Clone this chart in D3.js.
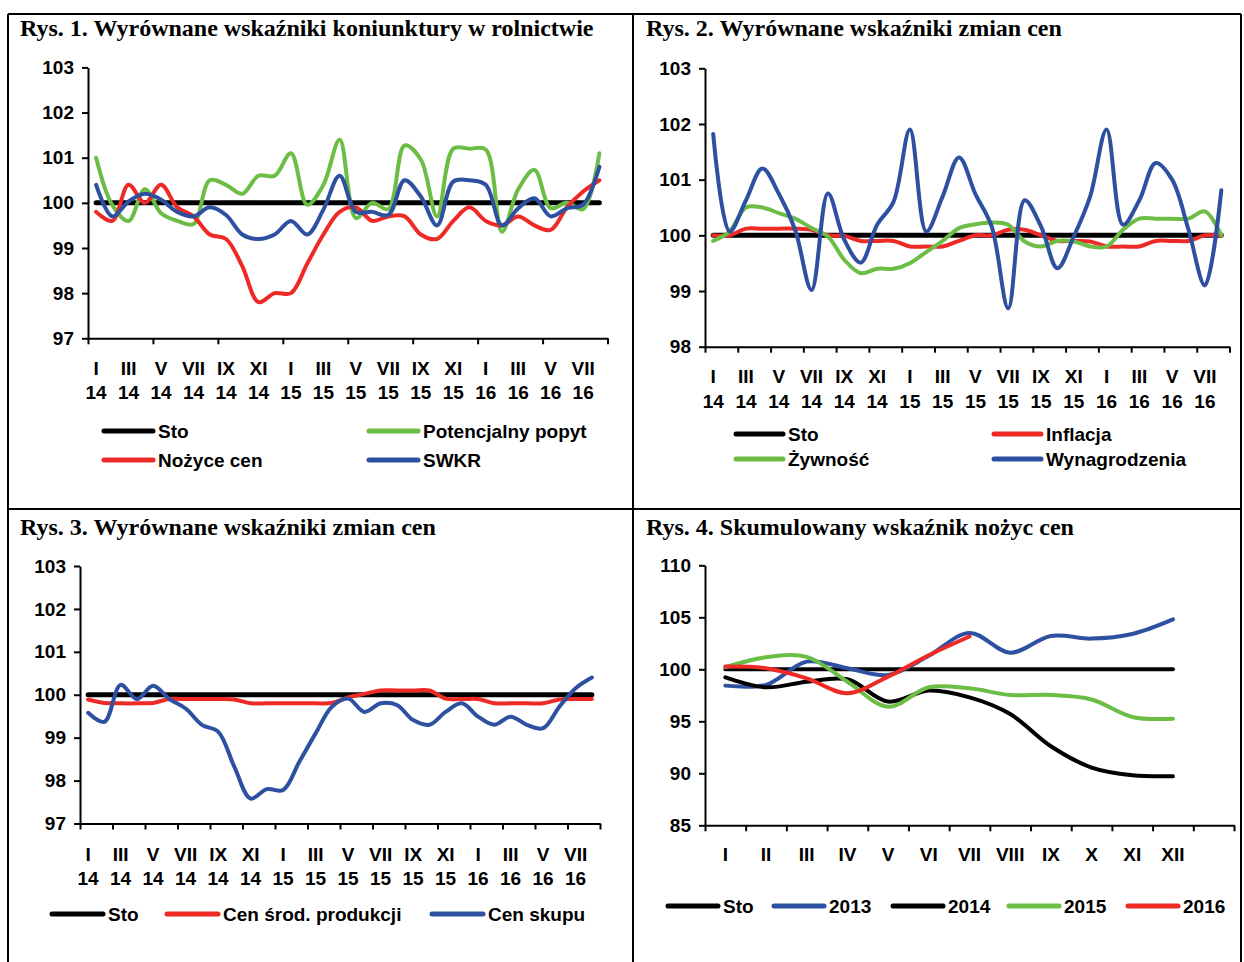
<!DOCTYPE html>
<html>
<head>
<meta charset="utf-8">
<title>Wskaźniki koniunktury w rolnictwie</title>
<script src="https://d3js.org/d3.v7.min.js"></script>
<style>
    body { margin: 0; background: #fff; }
    svg text {
        font-family: "Liberation Sans", Arial, sans-serif;
        font-weight: bold;
        font-size: 19px;
        fill: #000;
    }
    svg text.title {
        font-family: "Liberation Serif", "Times New Roman", serif;
        font-size: 24px;
    }
    .axis path, .axis line { stroke: #000; stroke-width: 2; }
</style>
</head>
<body>
<script>
    // categories: I 2014 .. VIII 2016
    var roman32 = ["I","II","III","IV","V","VI","VII","VIII","IX","X","XI","XII",
                   "I","II","III","IV","V","VI","VII","VIII","IX","X","XI","XII",
                   "I","II","III","IV","V","VI","VII","VIII"];
    var years32 = ["14","14","14","14","14","14","14","14","14","14","14","14",
                   "15","15","15","15","15","15","15","15","15","15","15","15",
                   "16","16","16","16","16","16","16","16"];
    var roman12 = ["I","II","III","IV","V","VI","VII","VIII","IX","X","XI","XII"];

    var sto32 = [100,100,100,100,100,100,100,100,100,100,100,100,100,100,100,100,
                 100,100,100,100,100,100,100,100,100,100,100,100,100,100,100,100];
    var sto12 = [100,100,100,100,100,100,100,100,100,100,100,100];

    // Rys. 1
    var potencjalnyPopyt = [101.0, 99.95, 99.6, 100.3, 99.77, 99.6, 99.53, 100.5, 100.4, 100.2, 100.6, 100.6,
                            101.1, 99.96, 100.4, 101.4, 99.66, 100.0, 99.86, 101.27, 100.96, 99.7, 101.2, 101.2,
                            101.18, 99.36, 100.3, 100.73, 99.88, 100.0, 99.86, 101.1];
    var nozyceCen = [99.8, 99.6, 100.4, 100.0, 100.4, 99.9, 99.7, 99.3, 99.2, 98.6, 97.8, 98.0,
                     98.0, 98.65, 99.3, 99.8, 99.9, 99.6, 99.7, 99.7, 99.3, 99.2, 99.6, 99.9,
                     99.6, 99.5, 99.7, 99.5, 99.4, 99.9, 100.25, 100.5];
    var swkr = [100.4, 99.7, 100.03, 100.2, 100.07, 99.8, 99.7, 99.9, 99.73, 99.3, 99.2, 99.3,
                99.6, 99.3, 99.85, 100.6, 99.8, 99.8, 99.73, 100.5, 100.14, 99.5, 100.47, 100.5,
                100.4, 99.5, 99.88, 100.1, 99.7, 99.88, 99.96, 100.8];

    // Rys. 2
    var inflacja = [100.0, 100.0, 100.12, 100.12, 100.12, 100.12, 100.1, 100.0, 99.99, 99.9, 99.9, 99.9,
                    99.8, 99.8, 99.8, 99.9, 100.0, 100.0, 100.1, 100.1, 100.0, 99.9, 99.9, 99.89,
                    99.8, 99.8, 99.8, 99.9, 99.9, 99.9, 100.0, 100.0];
    var zywnosc = [99.9, 100.07, 100.5, 100.5, 100.4, 100.3, 100.13, 99.98, 99.56, 99.32, 99.4, 99.4,
                   99.5, 99.7, 99.9, 100.13, 100.2, 100.23, 100.19, 99.89, 99.8, 99.9, 99.89, 99.8,
                   99.8, 100.1, 100.3, 100.3, 100.3, 100.3, 100.43, 100.0];
    var wynagrodzenia = [101.82, 100.07, 100.63, 101.2, 100.75, 100.1, 99.02, 100.75, 99.92, 99.51, 100.19, 100.6,
                         101.9, 100.07, 100.7, 101.4, 100.74, 100.15, 98.69, 100.63, 100.16, 99.41, 99.98, 100.7,
                         101.9, 100.19, 100.63, 101.3, 101.0, 100.1, 99.1, 100.81];

    // Rys. 3
    var cenSrodProdukcji = [99.89, 99.81, 99.8, 99.8, 99.81, 99.9, 99.9, 99.9, 99.9, 99.89, 99.8, 99.8,
                            99.8, 99.8, 99.8, 99.81, 99.94, 100.02, 100.1, 100.1, 100.1, 100.1, 99.91, 99.9,
                            99.9, 99.8, 99.8, 99.8, 99.8, 99.89, 99.9, 99.9];
    var cenSkupu = [99.58, 99.37, 100.23, 99.9, 100.21, 99.9, 99.68, 99.3, 99.14, 98.32, 97.58, 97.8,
                    97.78, 98.44, 99.1, 99.72, 99.91, 99.6, 99.8, 99.76, 99.41, 99.3, 99.6, 99.8,
                    99.49, 99.3, 99.49, 99.3, 99.22, 99.72, 100.15, 100.4];

    // Rys. 4
    var s2013 = [98.43, 98.5, 100.74, 100.1, 99.45, 101.3, 103.5, 101.6, 103.2, 102.95, 103.4, 104.8];
    var s2014 = [99.23, 98.27, 98.8, 99.04, 96.9, 97.95, 97.3, 95.7, 92.6, 90.55, 89.82, 89.72];
    var s2015 = [100.2, 101.15, 101.2, 98.8, 96.4, 98.27, 98.17, 97.53, 97.53, 97.1, 95.42, 95.25];
    var s2016 = [100.26, 100.1, 99.13, 97.7, 99.3, 101.35, 103.15];

    var BLACK = "#000000", RED = "#ee2a27", GREEN = "#6cbd45", BLUE = "#2e50a1";

    var svg = d3.select("body").append("svg")
                .attr("width", 1244)
                .attr("height", 962);

    // frame
    var frame = [[8, 14, 1241, 14], [8, 14, 8, 962], [1241, 14, 1241, 962],
                 [633, 14, 633, 962], [8, 509, 1241, 509]];
    svg.selectAll(".frame").data(frame).enter().append("line")
        .attr("x1", function(d){ return d[0]; })
        .attr("y1", function(d){ return d[1]; })
        .attr("x2", function(d){ return d[2]; })
        .attr("y2", function(d){ return d[3]; })
        .attr("stroke", "#000").attr("stroke-width", 2);

    function drawPanel(cfg) {
        var g = svg.append("g");

        g.append("text").attr("class", "title")
            .attr("x", cfg.titleX).attr("y", cfg.titleY)
            .text(cfg.title);

        var x = d3.scaleLinear().domain([0, cfg.n]).range([cfg.x0, cfg.x1]);
        var y = d3.scaleLinear().domain(cfg.yDomain).range([cfg.yBot, cfg.yTop]);

        g.append("g").attr("class", "axis")
            .attr("transform", "translate(" + cfg.x0 + ",0)")
            .call(d3.axisLeft(y).tickValues(cfg.yTicks).tickSize(6)
                  .tickSizeOuter(0).tickPadding(8).tickFormat(d3.format("d")));

        g.append("g").attr("class", "axis")
            .attr("transform", "translate(0," + cfg.yBot + ")")
            .call(d3.axisBottom(x).tickValues(d3.range(0, cfg.n + 1, cfg.tickStep))
                  .tickSize(6).tickSizeOuter(0).tickFormat(""));

        // category labels, one or two rows
        cfg.rows.forEach(function(row, r) {
            g.selectAll(".lab" + r)
                .data(row)
                .enter()
                .append("text")
                .attr("text-anchor", "middle")
                .attr("x", function(d, i){ return x(i + 0.5); })
                .attr("y", cfg.yBot + cfg.rowOffsets[r])
                .attr("dy", "0.35em")
                .text(function(d, i){ return (i % cfg.labelStep == 0) ? d : ""; });
        });

        var line = d3.line()
            .x(function(d, i){ return x(i + 0.5); })
            .y(function(d){ return y(d); })
            .curve(d3.curveCatmullRom);

        cfg.series.forEach(function(s) {
            g.append("path")
                .datum(s.values)
                .attr("d", line)
                .attr("fill", "none")
                .attr("stroke", s.color)
                .attr("stroke-width", s.width)
                .attr("stroke-linecap", "round")
                .attr("stroke-linejoin", "round");
        });

        // legend
        cfg.legend.forEach(function(it) {
            var s = cfg.series[it.idx];
            g.append("line")
                .attr("x1", it.x).attr("x2", it.x + cfg.legLen)
                .attr("y1", it.y).attr("y2", it.y)
                .attr("stroke", s.color).attr("stroke-width", 5)
                .attr("stroke-linecap", "round");
            g.append("text")
                .attr("x", it.x + cfg.legLen + 5)
                .attr("y", it.y).attr("dy", "0.35em")
                .text(s.name);
        });
    }

    drawPanel({
        title: "Rys. 1. Wyrównane wskaźniki koniunktury w rolnictwie", titleX: 20, titleY: 36,
        n: 32, x0: 88, x1: 607.5, yTop: 67.4, yBot: 338.3,
        yDomain: [97, 103], yTicks: [97, 98, 99, 100, 101, 102, 103],
        tickStep: 4, labelStep: 2, rows: [roman32, years32], rowOffsets: [30, 54.5],
        series: [
            {name: "Sto", values: sto32, color: BLACK, width: 5},
            {name: "Potencjalny popyt", values: potencjalnyPopyt, color: GREEN, width: 4},
            {name: "Nożyce cen", values: nozyceCen, color: RED, width: 4},
            {name: "SWKR", values: swkr, color: BLUE, width: 4}
        ],
        legLen: 49,
        legend: [{idx: 0, x: 104, y: 431}, {idx: 1, x: 369, y: 431},
                 {idx: 2, x: 104, y: 460}, {idx: 3, x: 369, y: 460}]
    });

    drawPanel({
        title: "Rys. 2. Wyrównane wskaźniki zmian cen", titleX: 646, titleY: 36,
        n: 32, x0: 705, x1: 1229.5, yTop: 68.3, yBot: 346.7,
        yDomain: [98, 103], yTicks: [98, 99, 100, 101, 102, 103],
        tickStep: 2, labelStep: 2, rows: [roman32, years32], rowOffsets: [29.5, 55],
        series: [
            {name: "Sto", values: sto32, color: BLACK, width: 5},
            {name: "Inflacja", values: inflacja, color: RED, width: 4},
            {name: "Żywność", values: zywnosc, color: GREEN, width: 4},
            {name: "Wynagrodzenia", values: wynagrodzenia, color: BLUE, width: 4}
        ],
        legLen: 47,
        legend: [{idx: 0, x: 736, y: 434}, {idx: 1, x: 994, y: 434},
                 {idx: 2, x: 736, y: 459}, {idx: 3, x: 994, y: 459}]
    });

    drawPanel({
        title: "Rys. 3. Wyrównane wskaźniki zmian cen", titleX: 20, titleY: 535,
        n: 32, x0: 80, x1: 600, yTop: 566, yBot: 823.5,
        yDomain: [97, 103], yTicks: [97, 98, 99, 100, 101, 102, 103],
        tickStep: 2, labelStep: 2, rows: [roman32, years32], rowOffsets: [30.5, 55],
        series: [
            {name: "Sto", values: sto32, color: BLACK, width: 5},
            {name: "Cen środ. produkcji", values: cenSrodProdukcji, color: RED, width: 4},
            {name: "Cen skupu", values: cenSkupu, color: BLUE, width: 4}
        ],
        legLen: 51,
        legend: [{idx: 0, x: 52, y: 914}, {idx: 1, x: 167, y: 914}, {idx: 2, x: 432, y: 914}]
    });

    drawPanel({
        title: "Rys. 4. Skumulowany wskaźnik nożyc cen", titleX: 646, titleY: 535,
        n: 13, x0: 705, x1: 1234, yTop: 565.3, yBot: 825.3,
        yDomain: [85, 110], yTicks: [85, 90, 95, 100, 105, 110],
        tickStep: 1, labelStep: 1, rows: [roman12], rowOffsets: [28.7],
        series: [
            {name: "Sto", values: sto12, color: BLACK, width: 4},
            {name: "2013", values: s2013, color: BLUE, width: 4},
            {name: "2014", values: s2014, color: BLACK, width: 4},
            {name: "2015", values: s2015, color: GREEN, width: 4},
            {name: "2016", values: s2016, color: RED, width: 4}
        ],
        legLen: 50,
        legend: [{idx: 0, x: 668, y: 906}, {idx: 1, x: 774, y: 906}, {idx: 2, x: 893, y: 906},
                 {idx: 3, x: 1009, y: 906}, {idx: 4, x: 1128, y: 906}]
    });
</script>
</body>
</html>
